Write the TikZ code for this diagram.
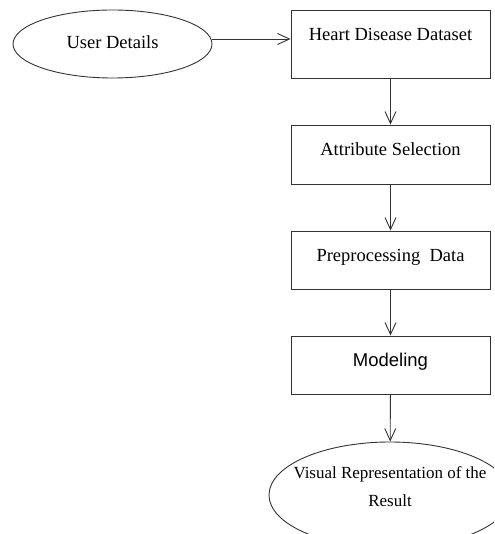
\documentclass[tikz,border=0pt]{standalone}
\usepackage{fontspec}
\setmainfont{Liberation Serif}
\newfontfamily\arialfont{Liberation Sans}
\usetikzlibrary{shapes.geometric,arrows.meta}
\tikzset{
  line/.style={draw=black!80, line width=0.9pt},
  arr/.style={line, -{Straight Barb[length=12pt,width=11pt,line width=0.9pt]}},
  stepbox/.style={line, rectangle, minimum width=199pt, minimum height=58pt, inner sep=0pt,
    font=\fontsize{18.5}{22}\selectfont, text height=13pt, text depth=11pt},
  oval/.style={line, ellipse, inner sep=0pt, font=\fontsize{18.5}{22}\selectfont, align=center}
}
\begin{document}
\begin{tikzpicture}[x=1pt,y=-1pt]
\useasboundingbox (0,0) rectangle (494,534);
\begin{scope}
\clip (0,0) rectangle (494,534);
\node[oval, minimum width=199pt, minimum height=68pt, text height=13pt, text depth=4pt] (user) at (112.5,44) {User Details};
\node[stepbox, minimum height=68pt, text height=13pt, text depth=19pt] (heart) at (390.5,44) {Heart Disease Dataset};
\node[stepbox, minimum height=59pt] (attr) at (390.5,154.5) {Attribute Selection};
\node[stepbox] (prep) at (390.5,260) {Preprocessing\ \ Data};
\node[stepbox, font=\arialfont\fontsize{18.5}{22}\selectfont] (model) at (390.5,365) {Modeling};
\node[oval, minimum width=242pt, minimum height=106pt,
  label={[font=\fontsize{17}{28}\selectfont, align=center, yshift=8pt]center:Visual Representation of the\\Result}] (vis) at (390,495) {};
\draw[arr] ([yshift=5pt]user.east) -- ([yshift=5pt]heart.west);
\draw[arr] (heart) -- (attr);
\draw[arr] (attr) -- (prep);
\draw[arr] (prep) -- (model);
\draw[arr] (model) -- (vis);
\end{scope}
\end{tikzpicture}
\end{document}
